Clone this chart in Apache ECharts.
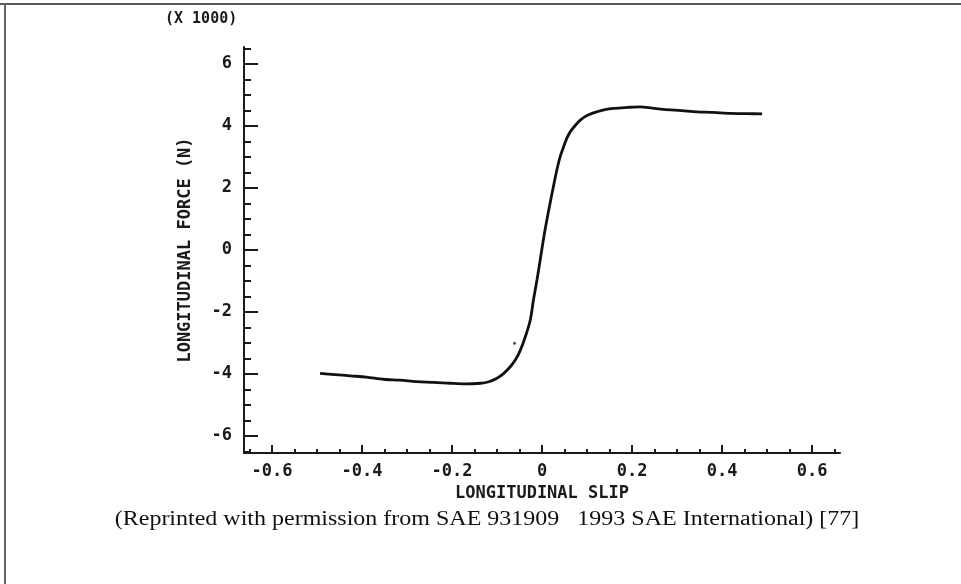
<!DOCTYPE html>
<html>
<head>
<meta charset="utf-8">
<script src="https://cdn.jsdelivr.net/npm/echarts@6/dist/echarts.min.js"></script>
<style>
html,body{margin:0;padding:0;background:#fff;}
#chart{width:961px;height:584px;}
</style>
</head>
<body>
<div id="chart"></div>
<script>
// ---- data (force in thousands of N) ----
const slip = [-0.493,-0.46,-0.426,-0.39,-0.352,-0.315,-0.278,-0.24,-0.204,-0.17,-0.137,-0.118,-0.1,-0.085,-0.07,-0.058,-0.048,-0.037,-0.026,-0.019,-0.011,-0.004,0.005,0.015,0.024,0.033,0.04,0.048,0.055,0.063,0.074,0.085,0.1,0.122,0.14,0.159,0.19,0.218,0.245,0.27,0.31,0.344,0.38,0.418,0.455,0.489];
const force = [-3.98,-4.02,-4.06,-4.1,-4.17,-4.2,-4.25,-4.27,-4.30,-4.32,-4.30,-4.25,-4.14,-3.98,-3.76,-3.52,-3.23,-2.8,-2.26,-1.61,-0.95,-0.32,0.5,1.29,1.95,2.58,3.0,3.33,3.6,3.82,4.02,4.19,4.34,4.46,4.53,4.57,4.6,4.62,4.58,4.54,4.5,4.46,4.44,4.41,4.40,4.39];
const straySlip = [-0.061];
const strayForce = [-3.01];
const xMajor = [-0.6,-0.4,-0.2,0,0.2,0.4,0.6];
const xMinor = [-0.65,-0.55,-0.5,-0.45,-0.35,-0.3,-0.25,-0.15,-0.1,-0.05,0.05,0.1,0.15,0.25,0.3,0.35,0.45,0.5,0.55,0.65];
const yMajor = [-6,-4,-2,0,2,4,6];
const yMinor = [-6.5,-5.5,-5,-4.5,-3.5,-3,-2.5,-1.5,-1,-0.5,0.5,1,1.5,2.5,3,3.5,4.5,5,5.5,6.5];
const xTitle = 'LONGITUDINAL SLIP';
const yTitle = 'LONGITUDINAL FORCE (N)';
const scaleNote = '(X 1000)';
const caption = '(Reprinted with permission from SAE 931909   1993 SAE International) [77]';

const mono = '"DejaVu Sans Mono", "Liberation Mono", monospace';
const ink = '#1a1a1a';
const xr = [-0.662, 0.662];
const yr = [-6.55, 6.55];

function xLabelFmt(v){ return v === 0 ? '0' : v.toFixed(1); }

const chart = echarts.init(document.getElementById('chart'), null, {renderer:'canvas'});
chart.setOption({
  backgroundColor:'#fff',
  animation:false,
  grid:{left:244, right:121, top:47, bottom:131, containLabel:false},
  xAxis:[{
    type:'value', min:xr[0], max:xr[1],
    axisLine:{show:true, onZero:false, lineStyle:{color:ink, width:2}},
    axisTick:{show:true, inside:true, length:8, customValues:xMajor, lineStyle:{color:ink, width:2}},
    axisLabel:{show:true, customValues:xMajor, formatter:xLabelFmt, margin:10, color:ink, fontFamily:mono, fontWeight:'bold', fontSize:17},
    splitLine:{show:false},
    name:xTitle, nameLocation:'middle', nameGap:31,
    nameTextStyle:{color:ink, fontFamily:mono, fontWeight:'bold', fontSize:17}
  },{
    type:'value', min:xr[0], max:xr[1], position:'bottom',
    axisLine:{show:false, onZero:false},
    axisTick:{show:true, inside:true, length:4, customValues:xMinor, lineStyle:{color:ink, width:2}},
    axisLabel:{show:false}, splitLine:{show:false}
  }],
  yAxis:[{
    type:'value', min:yr[0], max:yr[1],
    axisLine:{show:true, onZero:false, lineStyle:{color:ink, width:2}},
    axisTick:{show:true, inside:true, length:14, customValues:yMajor, lineStyle:{color:ink, width:2}},
    axisLabel:{show:true, customValues:yMajor, margin:12, color:ink, fontFamily:mono, fontWeight:'bold', fontSize:17},
    splitLine:{show:false},
    name:yTitle, nameLocation:'middle', nameGap:50, nameRotate:90,
    nameTextStyle:{color:ink, fontFamily:mono, fontWeight:'bold', fontSize:17}
  },{
    type:'value', min:yr[0], max:yr[1], position:'left',
    axisLine:{show:false, onZero:false},
    axisTick:{show:true, inside:true, length:7, customValues:yMinor, lineStyle:{color:ink, width:2}},
    axisLabel:{show:false}, splitLine:{show:false}
  }],
  series:[{
    type:'line', xAxisIndex:0, yAxisIndex:0,
    data: slip.map((s,i)=>[s, force[i]]),
    showSymbol:false, smooth:0.3,
    lineStyle:{color:'#111', width:2.8}
  },{
    type:'scatter', xAxisIndex:0, yAxisIndex:0,
    data: straySlip.map((s,i)=>[s, strayForce[i]]),
    symbol:'circle', symbolSize:3, itemStyle:{color:'#222'}
  }],
  graphic:[
    {type:'line', shape:{x1:0, y1:4, x2:961, y2:4}, style:{stroke:'#222', lineWidth:1.5}},
    {type:'line', shape:{x1:5, y1:4, x2:5, y2:584}, style:{stroke:'#666', lineWidth:2}},
    {type:'text', x:165, y:12, style:{text:scaleNote, fill:ink, font:'bold 15px ' + mono}},
    {type:'text', x:487, y:520, scaleX:1.2, style:{text:caption, fill:'#111', align:'center', verticalAlign:'middle', font:'20px "Liberation Serif", "Times New Roman", serif'}}
  ]
});
</script>
</body>
</html>
